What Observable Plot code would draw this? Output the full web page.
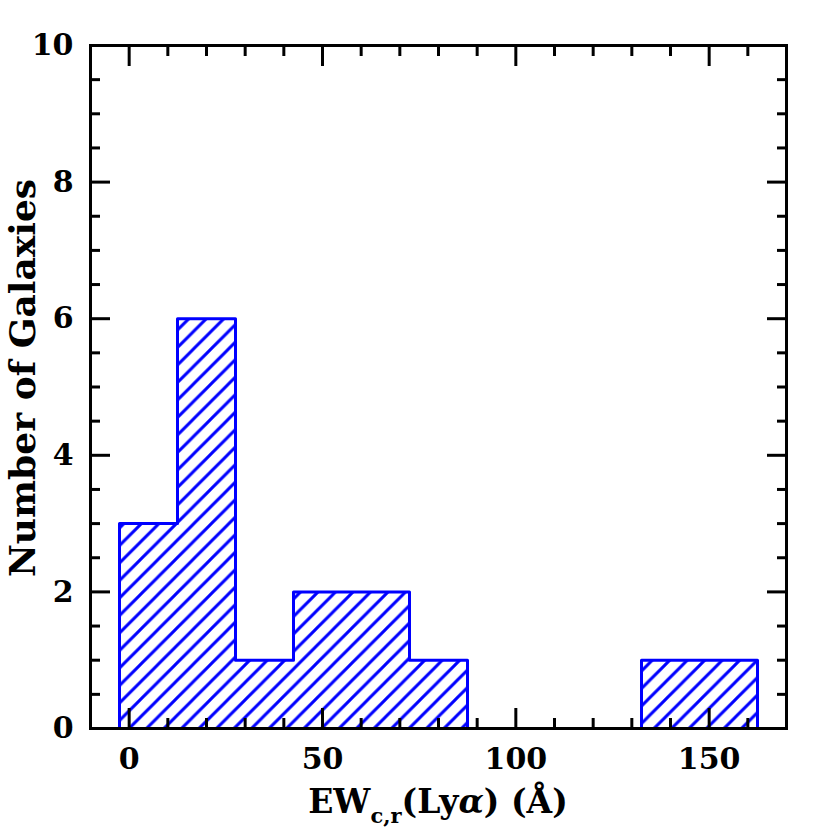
<!DOCTYPE html>
<html><head><meta charset="utf-8">
<script src="https://cdn.jsdelivr.net/npm/d3@7"></script>
<script src="https://cdn.jsdelivr.net/npm/@observablehq/plot@0.6"></script>
<style>body{margin:0;background:#fff}</style>
</head><body><div id="chart"></div>
<script>
const binEdges = [-2.5, 12.5, 27.5, 42.5, 57.5, 72.5, 87.5, 102.5, 117.5, 132.5, 147.5, 162.5];
const counts = [3, 6, 1, 2, 2, 1, 0, 0, 0, 1, 1];
const xMajorTicks = [0, 50, 100, 150];
const xMinorTicks = [10, 20, 30, 40, 60, 70, 80, 90, 110, 120, 130, 140, 160];
const yMajorTicks = [0, 2, 4, 6, 8, 10];
const yMinorTicks = [0.5, 1, 1.5, 2.5, 3, 3.5, 4.5, 5, 5.5, 6.5, 7, 7.5, 8.5, 9, 9.5];
const xTitle = ["EW", "c,r", "(Ly", "\u03b1", ") (\u00c5)"];
const yTitle = "Number of Galaxies";

const bins = counts.map((c, i) => ({x1: binEdges[i], x2: binEdges[i + 1], count: c}));
const last = bins[bins.length - 1];
const outline = [{x: bins[0].x1, y: 0}, ...bins.map(b => ({x: b.x1, y: b.count})), {x: last.x2, y: last.count}, {x: last.x2, y: 0}];

const blue = "#0000ff";
const font = "DejaVu Serif";
const tickStyle = {fill: "none", stroke: "black", strokeWidth: 3, label: null};
const fmt = d => String(d);

const chart = Plot.plot({
  width: 830, height: 830,
  marginLeft: 90, marginRight: 44, marginTop: 45, marginBottom: 102,
  style: {fontFamily: font, fontWeight: "bold", background: "white"},
  x: {domain: [-10, 170]},
  y: {domain: [0, 10]},
  marks: [
    Plot.rectY(bins, {x1: "x1", x2: "x2", y: "count", fill: "url(#hatch)"}),
    Plot.line(outline, {x: "x", y: "y", curve: "step-after", stroke: blue, strokeWidth: 3}),
    Plot.axisX(xMajorTicks, {anchor: "bottom", tickSize: -20, ...tickStyle}),
    Plot.axisX(xMinorTicks, {anchor: "bottom", tickSize: -10, ...tickStyle}),
    Plot.axisX(xMajorTicks, {anchor: "top", tickSize: -20, ...tickStyle}),
    Plot.axisX(xMinorTicks, {anchor: "top", tickSize: -10, ...tickStyle}),
    Plot.axisY(yMajorTicks, {anchor: "left", tickSize: -20, ...tickStyle}),
    Plot.axisY(yMinorTicks, {anchor: "left", tickSize: -10, ...tickStyle}),
    Plot.axisY(yMajorTicks, {anchor: "right", tickSize: -20, ...tickStyle}),
    Plot.axisY(yMinorTicks, {anchor: "right", tickSize: -10, ...tickStyle}),
    Plot.axisX(xMajorTicks, {anchor: "bottom", tickSize: 0, tickPadding: 19, fontSize: 30, fontWeight: "bold", fill: "black", label: null, tickFormat: fmt}),
    Plot.axisY(yMajorTicks, {anchor: "left", tickSize: 0, tickPadding: 17, fontSize: 30, fontWeight: "bold", fill: "black", label: null, tickFormat: fmt}),
    Plot.frame({stroke: "black", strokeWidth: 3})
  ]
});

const svg = d3.select(chart);
const defs = svg.insert("defs", ":first-child");
const pat = defs.append("pattern").attr("id", "hatch").attr("patternUnits", "userSpaceOnUse")
  .attr("width", 17.5).attr("height", 17.5);
pat.append("path").attr("d", "M0,17.5 L17.5,0 M-4.4,4.4 L4.4,-4.4 M13.1,21.9 L21.9,13.1")
  .attr("stroke", blue).attr("stroke-width", 3).attr("fill", "none");

const xt = svg.append("text").attr("x", 438).attr("y", 813).attr("text-anchor", "middle")
  .attr("font-family", font).attr("font-weight", "bold").attr("font-size", 33).attr("fill", "black");
xt.append("tspan").text(xTitle[0]);
xt.append("tspan").attr("font-size", 21).attr("dy", 10).text(xTitle[1]);
xt.append("tspan").attr("dy", -10).text(xTitle[2]);
xt.append("tspan").attr("font-style", "italic").text(xTitle[3]);
xt.append("tspan").text(xTitle[4]);

svg.append("text").attr("transform", "translate(35,378) rotate(-90)").attr("text-anchor", "middle")
  .attr("font-family", font).attr("font-weight", "bold").attr("font-size", 36).attr("fill", "black")
  .text(yTitle);

document.getElementById("chart").appendChild(chart);
</script>
</body></html>
